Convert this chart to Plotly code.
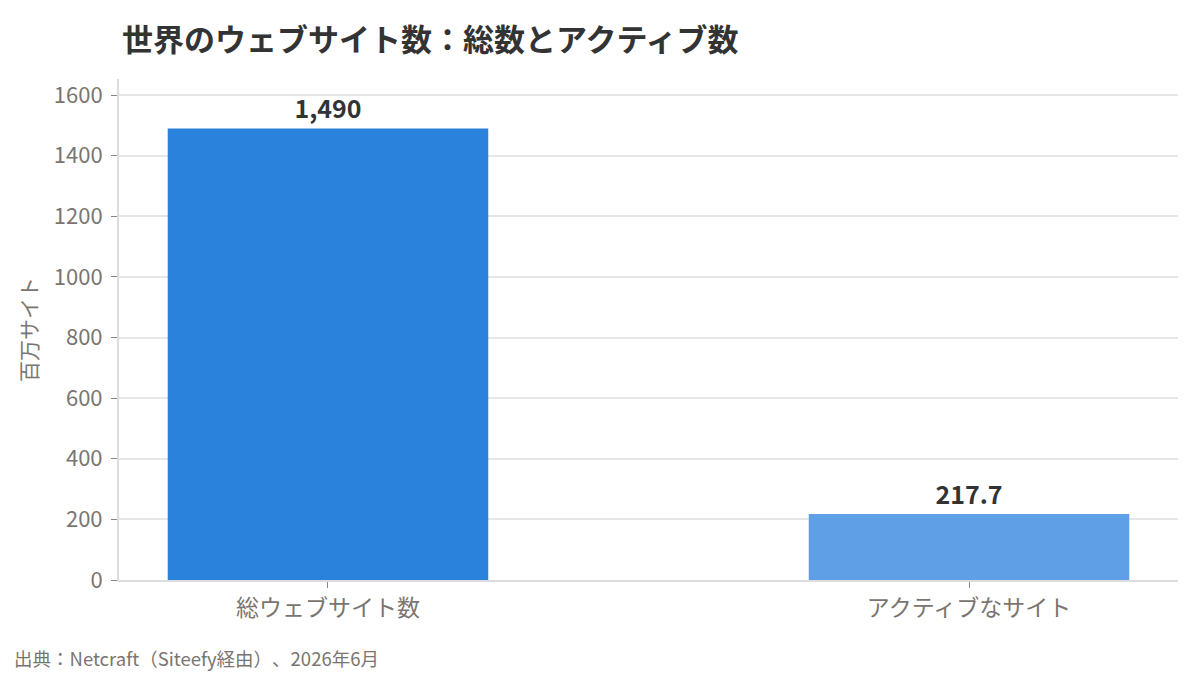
import plotly.graph_objects as go

categories = ["総ウェブサイト数", "アクティブなサイト"]
values = [1490, 217.7]
value_labels = ["1,490", "217.7"]
bar_colors = ["#2A82DD", "#5F9FE5"]
y_ticks = [0, 200, 400, 600, 800, 1000, 1200, 1400, 1600]

FONT = "Noto Sans CJK JP"
W, H = 1200, 675
ML, MR, MT, MB = 111, 30, 71, 103

fig = go.Figure(
    go.Bar(
        x=categories,
        y=values,
        width=0.5,
        marker=dict(color=bar_colors, line=dict(width=0)),
        text=value_labels,
        textposition="outside",
        cliponaxis=False,
        textfont=dict(family=FONT, size=25, color="#333333", weight="bold"),
        hoverinfo="skip",
    )
)

fig.update_layout(
    width=W,
    height=H,
    margin=dict(l=ML, r=MR, t=MT, b=MB),
    paper_bgcolor="white",
    plot_bgcolor="white",
    font=dict(family=FONT, color="#7a7570"),
    showlegend=False,
    title=dict(
        text="<b>世界のウェブサイト数：総数とアクティブ数</b>",
        x=114 / W,
        xanchor="left",
        y=1 - 32 / H,
        yanchor="middle",
        font=dict(family=FONT, size=31, color="#333333"),
    ),
    xaxis=dict(
        range=[-0.326, 1.326],
        showgrid=False,
        showline=True,
        linecolor="#dddddd",
        linewidth=2,
        ticks="outside",
        ticklen=6,
        tickcolor="#888888",
        tickfont=dict(family=FONT, size=23, color="#7a7570"),
    ),
    yaxis=dict(
        range=[0, 1653],
        tickvals=y_ticks,
        showgrid=True,
        gridcolor="#e6e6e6",
        gridwidth=1.5,
        showline=True,
        linecolor="#dddddd",
        linewidth=2,
        ticks="outside",
        ticklen=6,
        tickcolor="#888888",
        ticklabelstandoff=4,
        zeroline=False,
        tickfont=dict(family=FONT, size=22, color="#7a7570"),
        title=dict(text="百万サイト", font=dict(family=FONT, size=21, color="#7a7570"), standoff=10),
    ),
)

pw = W - ML - MR
ph = H - MT - MB
fig.add_annotation(
    text="出典：Netcraft（Siteefy経由）\u200b、2026年6月",
    x=(4 - ML) / pw,
    y=(H - MB - 650) / ph,
    xref="paper",
    yref="paper",
    xanchor="left",
    yanchor="middle",
    showarrow=False,
    font=dict(family=FONT, size=18.5, color="#7a7570"),
)

fig.write_html("out.html")
